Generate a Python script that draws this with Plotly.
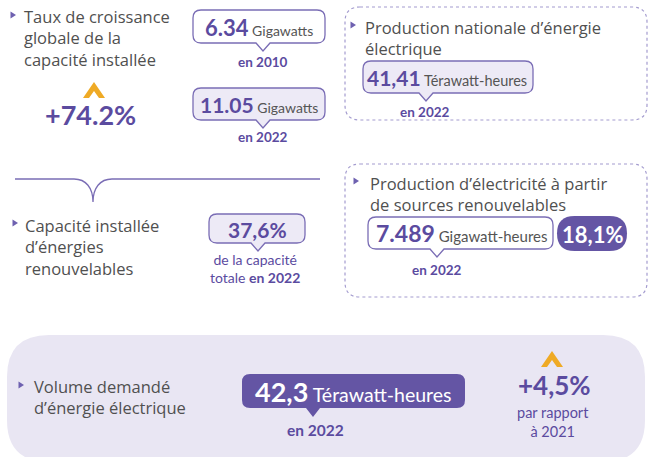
import plotly.graph_objects as go

# ---------------- data ----------------
titles = [
    ["Taux de croissance", "globale de la", "capacité installée"],
    ["Production nationale d’énergie", "électrique"],
    ["Capacité installée", "d’énergies", "renouvelables"],
    ["Production d’électricité à partir", "de sources renouvelables"],
    ["Volume demandé", "d’énergie électrique"],
]
capacity_values = ["6.34", "11.05"]
capacity_unit = "Gigawatts"
capacity_years = ["en 2010", "en 2022"]
capacity_growth = "+74.2%"
national_value = "41,41"
national_unit = "Térawatt-heures"
national_year = "en 2022"
renew_share = "37,6%"
renew_share_label = ["de la capacité", "totale", "en 2022"]
renew_prod_value = "7.489"
renew_prod_unit = "Gigawatt-heures"
renew_prod_year = "en 2022"
renew_prod_share = "18,1%"
demand_value = "42,3"
demand_unit = "Térawatt-heures"
demand_year = "en 2022"
demand_growth = "+4,5%"
demand_growth_label = ["par rapport", "à 2021"]

# ---------------- style ----------------
W, H = 652, 457
FONT = "Lato"
TFONT = "Open Sans"
PURPLE = "#5B4B9F"
DARK = "#6455A4"
BORDER = "#7A6DB5"
LAV = "#EDEAF6"
BG = "#E9E6F3"
GREY = "#505050"
UNIT = "#555555"
ORANGE = "#EFAA25"
DOT = "#A49CCF"

shapes = []
ann = []


def rr_path(x0, y0, x1, y1, r):
    return (f"M {x0+r},{y0} L {x1-r},{y0} Q {x1},{y0} {x1},{y0+r} "
            f"L {x1},{y1-r} Q {x1},{y1} {x1-r},{y1} L {x0+r},{y1} "
            f"Q {x0},{y1} {x0},{y1-r} L {x0},{y0+r} Q {x0},{y0} {x0+r},{y0} Z")


def bubble_path(x0, y0, x1, y1, tx, r=8, th=8, tw=7):
    return (f"M {x0+r},{y0} L {x1-r},{y0} Q {x1},{y0} {x1},{y0+r} "
            f"L {x1},{y1-r} Q {x1},{y1} {x1-r},{y1} L {tx+tw},{y1} L {tx},{y1+th} "
            f"L {tx-tw},{y1} L {x0+r},{y1} Q {x0},{y1} {x0},{y1-r} "
            f"L {x0},{y0+r} Q {x0},{y0} {x0+r},{y0} Z")


def add_path(path, fill, line=None, width=1.3, dash=None):
    d = dict(type="path", path=path, xref="x", yref="y", fillcolor=fill,
             layer="below")
    if line:
        d["line"] = dict(color=line, width=width, dash=dash) if dash else dict(color=line, width=width)
    else:
        d["line"] = dict(width=0)
    shapes.append(d)


def text(x, y, s, size, color, anchor="left", vanchor="middle", align="left",
         family=FONT, weight=None):
    f = dict(family=family, size=size, color=color)
    if weight:
        f["weight"] = weight
    ann.append(dict(x=x, y=y, xref="x", yref="y", text=s, showarrow=False,
                    xanchor=anchor, yanchor=vanchor, align=align, font=f))


def bullet(x, y):
    add_path(f"M {x-2.5},{y-3.5} L {x+3},{y} L {x-2.5},{y+3.5} Z", "#6E61B0")


def title(x, ytop, lines):
    text(x, ytop, "<br>".join(lines), 16.5, GREY, vanchor="top", family=TFONT)


def caret(cx, cy):
    add_path(f"M {cx-11},{cy+8} L {cx},{cy-8} L {cx+11},{cy+8} L {cx+5},{cy+8} "
             f"L {cx},{cy+1} L {cx-5},{cy+8} Z", ORANGE)


def value_text(cx, cy, val, unit, vsize, usize, vcolor, ucolor):
    s = f"<b>{val}</b>"
    if unit:
        s += f"<span style='font-size:{usize}px;color:{ucolor};font-weight:normal'> {unit}</span>"
    text(cx, cy, s, vsize, vcolor, anchor="center")


# ---------- section 1: capacity growth ----------
bullet(13, 15)
title(22, 3, titles[0])
caret(94, 90)
text(90, 114, f"<b>{capacity_growth}</b>", 27, PURPLE, anchor="center")

add_path(bubble_path(193, 10, 325, 43, 263), "white", BORDER)
value_text(259, 27, capacity_values[0], capacity_unit, 22, 14, PURPLE, UNIT)
text(263, 62, f"<b>{capacity_years[0]}</b>", 13.5, PURPLE, anchor="center")

add_path(bubble_path(193, 88, 325, 120, 263), LAV, BORDER)
value_text(259, 104, capacity_values[1], capacity_unit, 21, 14, PURPLE, UNIT)
text(263, 137, f"<b>{capacity_years[1]}</b>", 13.5, PURPLE, anchor="center")

# ---------- section 2: national production ----------
add_path(rr_path(345, 7, 647, 120, 15), "rgba(0,0,0,0)", DOT, 1.2, "dot")
bullet(353, 25)
title(363, 14, titles[1])
add_path(bubble_path(363, 61, 533, 93, 426), LAV, BORDER)
value_text(447, 77, national_value, national_unit, 21, 14.5, PURPLE, UNIT)
text(425, 112, f"<b>{national_year}</b>", 13.5, PURPLE, anchor="center")

# ---------- divider with brace ----------
add_path("M 15,179 L 74,179 C 86,179 93,188 93,202 C 93,188 100,179 112,179 L 320,179",
         "rgba(0,0,0,0)", BORDER, 1.3)

# ---------- section 3: renewable capacity ----------
bullet(15, 223)
title(23, 212, titles[2])
add_path(bubble_path(209, 214, 305, 243, 258), LAV, BORDER)
text(257, 229, f"<b>{renew_share}</b>", 21, PURPLE, anchor="center")
text(255, 268, f"{renew_share_label[0]}<br>{renew_share_label[1]} <b>{renew_share_label[2]}</b>",
     14, PURPLE, anchor="center", align="center")

# ---------- section 4: renewable production ----------
add_path(rr_path(345, 164, 647, 297, 15), "rgba(0,0,0,0)", DOT, 1.2, "dot")
bullet(356, 181)
title(368, 170, titles[3])
add_path(bubble_path(368, 217, 553, 249, 437), "white", BORDER)
value_text(461, 233, renew_prod_value, renew_prod_unit, 23, 15, PURPLE, UNIT)
add_path(rr_path(557, 216, 627, 251, 17.5), DARK)
text(592, 234, f"<b>{renew_prod_share}</b>", 22, "white", anchor="center")
text(437, 270, f"<b>{renew_prod_year}</b>", 13.5, PURPLE, anchor="center")

# ---------- section 5: demand ----------
add_path(rr_path(7, 335, 645, 462, 42), BG)
bullet(21, 385)
title(32, 373, titles[4])
add_path(bubble_path(242, 374, 465, 408, 313, r=8, th=9, tw=7), DARK)
value_text(353, 391, demand_value, demand_unit, 27, 19.5, "white", "white")
text(315, 430, f"<b>{demand_year}</b>", 15.5, PURPLE, anchor="center")
caret(552, 359)
text(554, 385, f"<b>{demand_growth}</b>", 26, PURPLE, anchor="center")
text(553, 422, "<br>".join(demand_growth_label), 14.5, PURPLE, anchor="center", align="center")

fig = go.Figure()
fig.update_layout(
    width=W, height=H,
    margin=dict(l=0, r=0, t=0, b=0),
    paper_bgcolor="white", plot_bgcolor="white",
    xaxis=dict(range=[0, W], visible=False, fixedrange=True),
    yaxis=dict(range=[H, 0], visible=False, fixedrange=True),
    shapes=shapes, annotations=ann, showlegend=False,
)
fig.write_html("out.html", config={"displayModeBar": False},
               post_script="document.body.style.margin='0';document.body.style.padding='0';")
